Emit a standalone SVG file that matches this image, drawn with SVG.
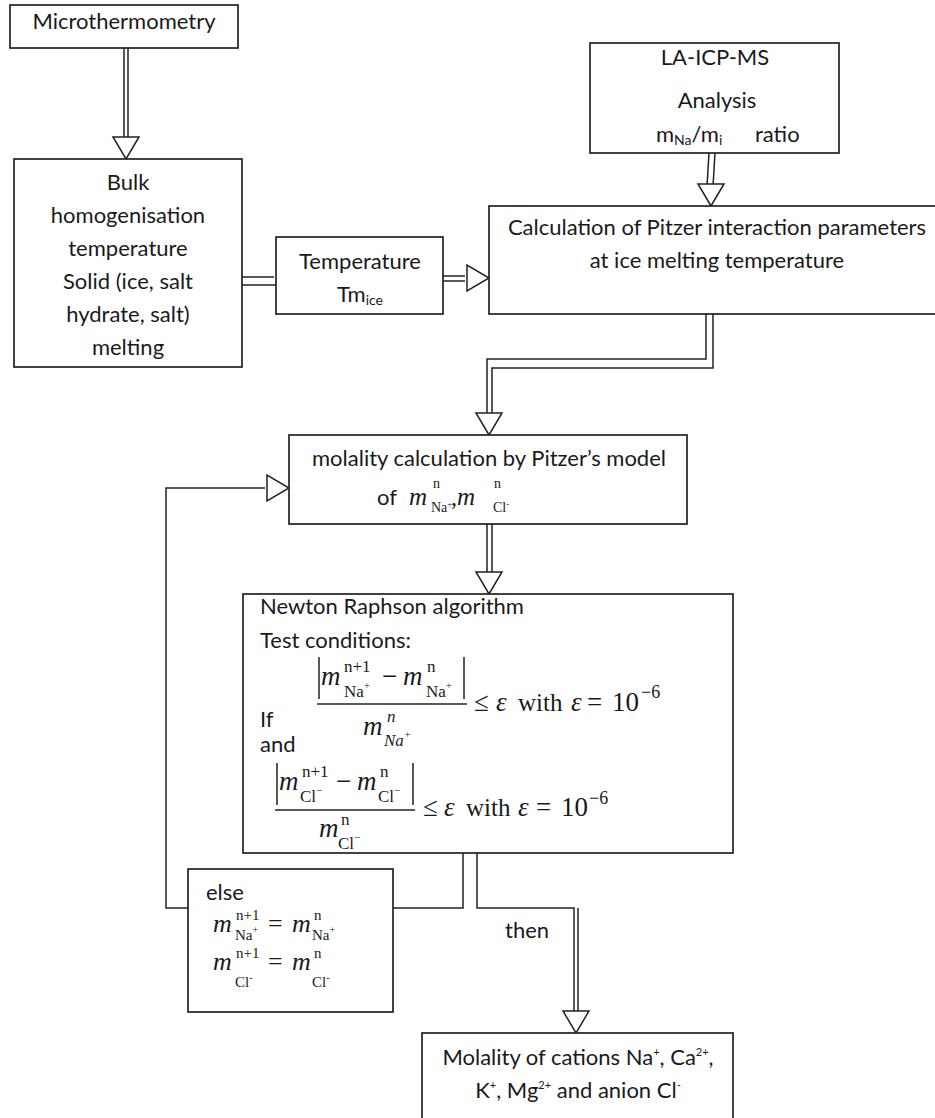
<svg xmlns="http://www.w3.org/2000/svg" width="935" height="1118" viewBox="0 0 935 1118">
<style>
.box{fill:#fff;stroke:#222;stroke-width:1.7}
.conn{fill:none;stroke:#222;stroke-width:1.5}
.head{fill:#fff;stroke:#222;stroke-width:1.5}
.t{font-family:Lato,"Liberation Sans",sans-serif;font-size:22px;fill:#1a1a1a}
.c{text-anchor:middle}
.m{font-family:"Liberation Serif",serif;font-style:italic;fill:#1a1a1a}
.r{font-family:"Liberation Serif",serif;fill:#1a1a1a}
</style>
<defs>
<path id="tri" d="M-13,-22 L13,-22 L0,0 Z"/>
</defs>
<rect width="935" height="1118" fill="#fff"/>

<g id="connectors">
  <!-- Microthermometry -> Bulk -->
  <line class="conn" x1="124" y1="48" x2="124" y2="137"/>
  <line class="conn" x1="128" y1="48" x2="128" y2="137"/>
  <use href="#tri" class="head" transform="translate(126,159)"/>
  <!-- Bulk -> Temperature -->
  <line class="conn" x1="242" y1="277" x2="274" y2="277"/>
  <line class="conn" x1="242" y1="285" x2="276" y2="285"/>
  <!-- Temperature -> Pitzer -->
  <line class="conn" x1="443" y1="276" x2="465" y2="276"/>
  <line class="conn" x1="443" y1="281" x2="465" y2="281"/>
  <use href="#tri" class="head" transform="translate(489,278) rotate(-90)"/>
  <!-- LA-ICP-MS -> Pitzer -->
  <line class="conn" x1="709" y1="153" x2="707" y2="186"/>
  <line class="conn" x1="715" y1="153" x2="713" y2="186"/>
  <use href="#tri" class="head" transform="translate(711,206)"/>
  <!-- Pitzer -> molality -->
  <polyline class="conn" points="706,314 706,359 487,359 487,413"/>
  <polyline class="conn" points="713,314 713,368 492,368 492,413"/>
  <use href="#tri" class="head" transform="translate(489,435)"/>
  <!-- molality -> Newton -->
  <line class="conn" x1="487" y1="524" x2="487" y2="572"/>
  <line class="conn" x1="492" y1="524" x2="492" y2="572"/>
  <use href="#tri" class="head" transform="translate(489,594)"/>
  <!-- else loop -->
  <polyline class="conn" points="463,852 463,908 393,908"/>
  <polyline class="conn" points="188,908 166,908 166,488 265,488"/>
  <use href="#tri" class="head" transform="translate(289,488) rotate(-90)"/>
  <!-- then -->
  <polyline class="conn" points="477,852 477,908 574,908 574,1012"/>
  <line class="conn" x1="578" y1="908" x2="578" y2="1012"/>
  <use href="#tri" class="head" transform="translate(576,1033)"/>
  <text class="t" x="505" y="938">then</text>
</g>

<g id="microthermometry">
  <rect class="box" x="10" y="5" width="228" height="43"/>
  <text class="t c" x="124" y="29">Microthermometry</text>
</g>

<g id="bulk">
  <rect class="box" x="14" y="159" width="228" height="208"/>
  <text class="t c" x="128" y="190">Bulk</text>
  <text class="t c" x="128" y="223">homogenisation</text>
  <text class="t c" x="128" y="256">temperature</text>
  <text class="t c" x="128" y="289">Solid (ice, salt</text>
  <text class="t c" x="128" y="322">hydrate, salt)</text>
  <text class="t c" x="128" y="355">melting</text>
</g>

<g id="temperature">
  <rect class="box" x="276" y="237" width="167" height="77"/>
  <text class="t c" x="360" y="269">Temperature</text>
  <text class="t c" x="360" y="302">Tm<tspan font-size="14" dy="3">ice</tspan></text>
</g>

<g id="la-icp-ms">
  <rect class="box" x="590" y="43" width="249" height="110"/>
  <text class="t c" x="715" y="65">LA-ICP-MS</text>
  <text class="t c" x="717" y="108">Analysis</text>
  <text class="t" x="656" y="142">m<tspan font-size="14" dy="3">Na</tspan><tspan dy="-3">/m</tspan><tspan font-size="14" dy="3">i</tspan></text>
  <text class="t" x="755" y="142">ratio</text>
</g>

<g id="pitzer">
  <rect class="box" x="489" y="206" width="460" height="108"/>
  <text class="t c" x="717" y="235">Calculation of Pitzer interaction parameters</text>
  <text class="t c" x="717" y="268">at ice melting temperature</text>
</g>

<g id="molality">
  <rect class="box" x="289" y="435" width="398" height="89"/>
  <text class="t c" x="489" y="466">molality calculation by Pitzer’s model</text>
  <text class="t" x="377" y="505">of</text>
  <text class="m" x="409" y="505" font-size="25">m</text>
  <text class="r" x="433" y="488" font-size="14">n</text>
  <text class="r" x="431" y="512" font-size="14">Na<tspan font-size="9" dy="-5">+</tspan></text>
  <text class="r" x="451" y="505" font-size="24">,</text>
  <text class="m" x="457" y="505" font-size="25">m</text>
  <text class="r" x="494" y="488" font-size="14">n</text>
  <text class="r" x="493" y="512" font-size="14">Cl<tspan font-size="9" dy="-5">-</tspan></text>
</g>

<g id="newton">
  <rect class="box" x="243" y="594" width="490" height="259"/>
  <text class="t" x="260" y="614">Newton Raphson algorithm</text>
  <text class="t" x="260" y="648">Test conditions:</text>
  <text class="t" x="260" y="727">If</text>
  <text class="t" x="260" y="752">and</text>
  <!-- fraction 1 -->
  <line class="conn" x1="319" y1="657" x2="319" y2="699"/>
  <text class="m" x="321" y="685" font-size="27">m</text>
  <text class="r" x="344" y="672" font-size="17">n+1</text>
  <text class="r" x="344" y="697" font-size="17">Na<tspan font-size="11" dy="-8">+</tspan></text>
  <text class="r" x="382" y="685" font-size="27">−</text>
  <text class="m" x="403" y="685" font-size="27">m</text>
  <text class="r" x="427" y="672" font-size="17">n</text>
  <text class="r" x="426" y="697" font-size="17">Na<tspan font-size="11" dy="-8">+</tspan></text>
  <line class="conn" x1="464" y1="657" x2="464" y2="699"/>
  <line class="conn" x1="317" y1="704" x2="467" y2="704"/>
  <text class="m" x="363" y="735" font-size="27">m</text>
  <text class="m" x="387" y="722" font-size="17">n</text>
  <text class="m" x="384" y="746" font-size="17">Na<tspan font-size="11" dy="-8">+</tspan></text>
  <text class="r" x="474" y="711" font-size="27">≤</text>
  <text class="m" x="496" y="711" font-size="27">ε</text>
  <text class="r" x="518" y="711" font-size="25">with</text>
  <text class="m" x="571" y="711" font-size="27">ε</text>
  <text class="r" x="587" y="711" font-size="27">=</text>
  <text class="r" x="612" y="711" font-size="27">10</text>
  <text class="r" x="641" y="698" font-size="18">−6</text>
  <!-- fraction 2 -->
  <line class="conn" x1="277" y1="763" x2="277" y2="805"/>
  <text class="m" x="279" y="790" font-size="27">m</text>
  <text class="r" x="302" y="777" font-size="17">n+1</text>
  <text class="r" x="300" y="802" font-size="17">Cl<tspan font-size="11" dy="-8">−</tspan></text>
  <text class="r" x="336" y="790" font-size="27">−</text>
  <text class="m" x="357" y="790" font-size="27">m</text>
  <text class="r" x="380" y="777" font-size="17">n</text>
  <text class="r" x="378" y="802" font-size="17">Cl<tspan font-size="11" dy="-8">−</tspan></text>
  <line class="conn" x1="413" y1="763" x2="413" y2="805"/>
  <line class="conn" x1="275" y1="810" x2="415" y2="810"/>
  <text class="m" x="319" y="837" font-size="27">m</text>
  <text class="r" x="341" y="825" font-size="17">n</text>
  <text class="r" x="338" y="849" font-size="17">Cl<tspan font-size="11" dy="-8">−</tspan></text>
  <text class="r" x="423" y="816" font-size="27">≤</text>
  <text class="m" x="444" y="816" font-size="27">ε</text>
  <text class="r" x="466" y="816" font-size="25">with</text>
  <text class="m" x="518" y="816" font-size="27">ε</text>
  <text class="r" x="536" y="816" font-size="27">=</text>
  <text class="r" x="561" y="816" font-size="27">10</text>
  <text class="r" x="589" y="804" font-size="18">−6</text>
</g>

<g id="else">
  <rect class="box" x="188" y="869" width="205" height="143"/>
  <text class="t" x="206" y="900">else</text>
  <text class="m" x="213" y="932" font-size="26">m</text>
  <text class="r" x="236" y="920" font-size="15">n+1</text>
  <text class="r" x="235" y="940" font-size="15">Na<tspan font-size="10" dy="-7">+</tspan></text>
  <text class="r" x="268" y="932" font-size="26">=</text>
  <text class="m" x="292" y="932" font-size="26">m</text>
  <text class="r" x="314" y="920" font-size="15">n</text>
  <text class="r" x="312" y="940" font-size="15">Na<tspan font-size="10" dy="-7">+</tspan></text>
  <text class="m" x="213" y="970" font-size="26">m</text>
  <text class="r" x="236" y="958" font-size="15">n+1</text>
  <text class="r" x="235" y="987" font-size="15">Cl<tspan font-size="10" dy="-6">-</tspan></text>
  <text class="r" x="268" y="970" font-size="26">=</text>
  <text class="m" x="292" y="970" font-size="26">m</text>
  <text class="r" x="314" y="958" font-size="15">n</text>
  <text class="r" x="312" y="987" font-size="15">Cl<tspan font-size="10" dy="-6">-</tspan></text>
</g>

<g id="result">
  <rect class="box" x="422" y="1033" width="311" height="100"/>
  <text class="t c" x="578" y="1065">Molality of cations Na<tspan font-size="11" dy="-9">+</tspan><tspan dy="9">, Ca</tspan><tspan font-size="11" dy="-9">2+</tspan><tspan dy="9">,</tspan></text>
  <text class="t c" x="578" y="1098">K<tspan font-size="11" dy="-9">+</tspan><tspan dy="9">, Mg</tspan><tspan font-size="11" dy="-9">2+</tspan><tspan dy="9"> and anion Cl</tspan><tspan font-size="11" dy="-9">-</tspan></text>
</g>
</svg>
